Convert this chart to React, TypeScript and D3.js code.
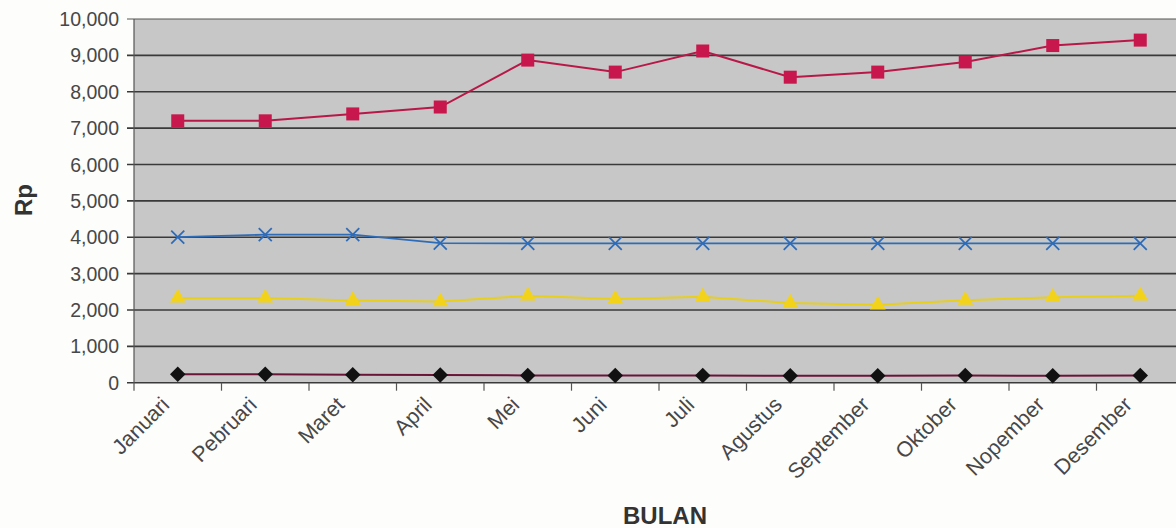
import React from "react";
import * as d3 from "d3";

const months = ["Januari","Pebruari","Maret","April","Mei","Juni","Juli","Agustus","September","Oktober","Nopember","Desember"];
const redSeries = [7200, 7200, 7390, 7580, 8870, 8540, 9120, 8400, 8540, 8820, 9270, 9420];
const blueSeries = [4000, 4070, 4070, 3840, 3830, 3830, 3830, 3830, 3830, 3830, 3830, 3830];
const yellowSeries = [2330, 2330, 2260, 2230, 2390, 2300, 2360, 2190, 2140, 2270, 2350, 2390];
const blackSeries = [230, 230, 220, 210, 200, 200, 200, 190, 190, 200, 190, 200];
const yTicks = [0, 1000, 2000, 3000, 4000, 5000, 6000, 7000, 8000, 9000, 10000];

const W = 1176, H = 528;
const left = 134, top = 19, bottom = 382.7, right = 1184;

export default function App() {
  const x = d3.scaleBand().domain(months).range([left, right]).padding(0);
  const y = d3.scaleLinear().domain([0, 10000]).range([bottom, top]);
  const cx = (m: string) => (x(m) as number) + x.bandwidth() / 2;
  const line = (vals: number[]) =>
    d3.line<number>().x((_, i) => cx(months[i])).y((v) => y(v))(vals) as string;
  const fmt = d3.format(",");
  const font = "'Liberation Sans', Arial, sans-serif";

  return (
    <div style={{ position: "absolute", left: 0, top: 0, background: "#fff" }}>
      <svg width={W} height={H} style={{ display: "block" }} fontFamily={font}>
        <rect x={0} y={0} width={W} height={H} fill="#fdfdfb" />
        <rect x={left} y={top} width={right - left} height={bottom - top} fill="#c7c7c7" />
        {yTicks.map((t) => (
          <g key={t}>
            <line x1={left - 7} x2={right} y1={y(t)} y2={y(t)} stroke={t === 10000 ? "#555" : "#3a3a3a"} strokeWidth={t === 10000 ? 1 : 1.6} />
            <text x={119} y={y(t)} dy="0.36em" textAnchor="end" fontSize={19.5} fill="#474747">{fmt(t)}</text>
          </g>
        ))}
        <line x1={left} x2={left} y1={top} y2={bottom + 8} stroke="#555" strokeWidth={1.2} />
        {months.map((m) => (
          <line key={m} x1={(x(m) as number) + x.bandwidth()} x2={(x(m) as number) + x.bandwidth()} y1={bottom} y2={bottom + 8} stroke="#555" strokeWidth={1.2} />
        ))}
        {months.map((m) => (
          <text key={m} transform={`translate(${cx(m) - 7},${406}) rotate(-45)`} textAnchor="end" fontSize={21.5} fill="#474747">{m}</text>
        ))}

        {/* black series */}
        <path d={line(blackSeries)} fill="none" stroke="#6a1538" strokeWidth={2} />
        {blackSeries.map((v, i) => (
          <rect key={i} x={-5.5} y={-5.5} width={11} height={11} fill="#111" transform={`translate(${cx(months[i])},${y(v)}) rotate(45)`} />
        ))}

        {/* yellow series */}
        <path d={line(yellowSeries)} fill="none" stroke="#e8cf1e" strokeWidth={2} />
        {yellowSeries.map((v, i) => (
          <path key={i} d={d3.symbol(d3.symbolTriangle, 110)() as string} fill="#f2d21b" transform={`translate(${cx(months[i])},${y(v)})`} />
        ))}

        {/* blue series */}
        <path d={line(blueSeries)} fill="none" stroke="#2f6cb8" strokeWidth={1.8} />
        {blueSeries.map((v, i) => (
          <g key={i} transform={`translate(${cx(months[i])},${y(v)})`} stroke="#2f6cb8" strokeWidth={1.8}>
            <line x1={-6.5} y1={-6.5} x2={6.5} y2={6.5} />
            <line x1={-6.5} y1={6.5} x2={6.5} y2={-6.5} />
          </g>
        ))}

        {/* red series */}
        <path d={line(redSeries)} fill="none" stroke="#b81848" strokeWidth={2} />
        {redSeries.map((v, i) => (
          <rect key={i} x={cx(months[i]) - 6.5} y={y(v) - 6.5} width={13} height={13} fill="#c8174c" />
        ))}

        <text transform={`translate(32,200) rotate(-90)`} textAnchor="middle" fontSize={24} fontWeight="bold" fill="#333">Rp</text>
        <text x={665} y={524} textAnchor="middle" fontSize={24} fontWeight="bold" fill="#333">BULAN</text>
      </svg>
    </div>
  );
}
